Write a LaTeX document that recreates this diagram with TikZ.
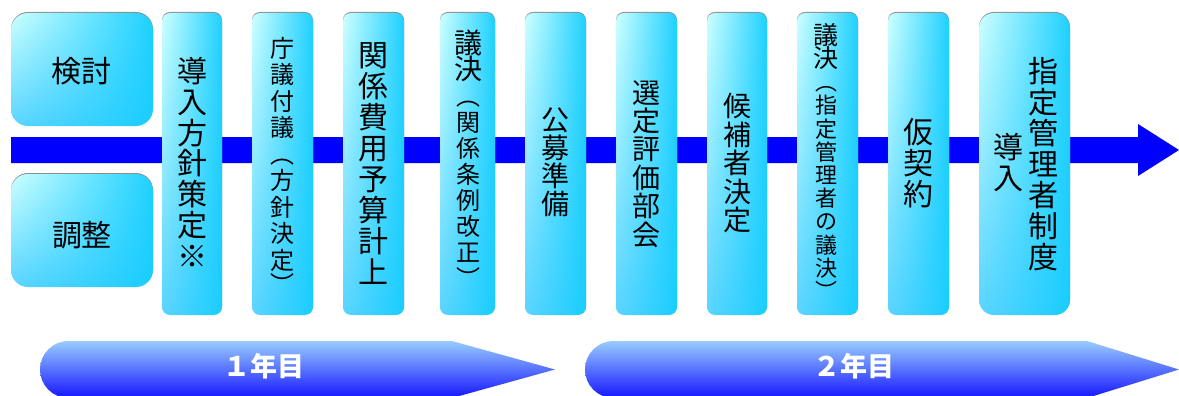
\documentclass[tikz,border=0pt]{standalone}
\usepackage{fontspec}
\setmainfont{Noto Sans CJK JP}
\usetikzlibrary{shadows,shadings}
\definecolor{boxUL}{RGB}{204,255,255}
\definecolor{boxUR}{RGB}{30,208,255}
\definecolor{boxLL}{RGB}{90,212,255}
\definecolor{boxLR}{RGB}{25,205,255}
\definecolor{yrTop}{RGB}{152,204,255}
\definecolor{yrMid}{RGB}{115,160,255}
\definecolor{yrBot}{RGB}{22,22,255}
\definecolor{barblue}{RGB}{0,0,255}
\newcommand{\fsz}[2]{\fontsize{#1}{#2}\selectfont}
\begin{document}
\begin{tikzpicture}[x=1pt,y=-1pt,
  cbox/.style={shade, upper left=boxUL, upper right=boxUR, lower left=boxLL, lower right=boxLR,
    draw=none, inner sep=0pt, general shadow={fill=black!45, shadow yshift=1pt}},
  tallbox/.style={cbox, rounded corners=8pt, minimum height=302pt},
  sidebox/.style={cbox, rounded corners=17pt, minimum width=142pt, minimum height=113pt},
  vtxt/.style={anchor=north, inner sep=0pt, align=center, text=black},
  hlabel/.style={inner sep=0pt, text=black, font=\fsz{30}{31}},
  yrarrow/.style={top color=yrTop, middle color=yrMid, bottom color=yrBot},
  yrlabel/.style={inner sep=0pt, text=white, font=\bfseries\fsz{27}{27}}
]
\useasboundingbox (0,0) rectangle (1179,396);

% main blue arrow
\coordinate (barstart) at (11,150);
\coordinate (bartip) at (1179,150);
\fill[barblue] (11,137) -- (1138,137) -- (1138,124) -- (bartip) -- (1138,176) -- (1138,163) -- (11,163) -- cycle;

% side boxes
\node[sidebox] (kento) at (82,69.5) {};
\node[sidebox] (chosei) at (82,230.5) {};
\node[hlabel] (kentoT) at (81,71.5) {検討};
\node[hlabel] (choseiT) at (82,235) {調整};

% tall boxes
\node[tallbox, minimum width=60pt] (b1) at (192,164) {};
\node[tallbox, minimum width=61pt] (b2) at (282.5,164) {};
\node[tallbox, minimum width=61pt] (b3) at (373.5,164) {};
\node[tallbox, minimum width=55pt] (b4) at (467.5,164) {};
\node[tallbox, minimum width=61pt] (b5) at (555.5,164) {};
\node[tallbox, minimum width=61pt] (b6) at (646.5,164) {};
\node[tallbox, minimum width=60pt] (b7) at (737,164) {};
\node[tallbox, minimum width=61pt] (b8) at (827.5,164) {};
\node[tallbox, minimum width=61pt] (b9) at (918.5,164) {};
\node[cbox, rounded corners=15pt, minimum height=302pt, minimum width=91pt] (b10) at (1024.5,164) {};

% vertical texts
\node[vtxt, font=\fsz{24}{26.5}] (t2) at (282.5,37) {庁\\議\\付\\議\\︵\\方\\針\\決\\定\\[-2pt]︶};
\node[vtxt, font=\fsz{30}{30.8}] (t1) at (192,57) {導\\入\\方\\針\\策\\定\\※};
\node[vtxt, font=\fsz{30}{31}] (t3) at (373.5,42) {関\\係\\費\\用\\予\\算\\計\\上};
\node[vtxt, font=\fsz{24}{26}] (t4) at (468,30) {{\fsz{28}{28}議}\\{\fsz{28}{28}決}\\︵\\関\\係\\条\\例\\改\\正\\︶};
\node[vtxt, font=\fsz{28}{28}] (t5) at (555.5,108) {公\\募\\準\\備};
\node[vtxt, font=\fsz{28}{28.4}] (t6) at (646.5,80) {選\\定\\評\\価\\部\\会};
\node[vtxt, font=\fsz{28}{28.5}] (t7) at (737,93) {候\\補\\者\\決\\定};
\node[vtxt, font=\fsz{22}{23.2}] (t8) at (826,23) {{\fsz{25}{25}議}\\{\fsz{25}{25}決}\\︵\\指\\定\\管\\理\\者\\の\\議\\決\\︶};
\node[vtxt, font=\fsz{30}{31}] (t9) at (918.5,118) {仮\\契\\約};
\node[vtxt, font=\fsz{30}{31}] (t10a) at (1043,57) {指\\定\\管\\理\\者\\制\\度};
\node[vtxt, font=\fsz{30}{31}] (t10b) at (1008,133) {導\\入};

% year arrows
\shade[yrarrow] (452,341) -- (555,369.5) -- (452,398) -- (68.5,398) arc[start angle=90, end angle=270, radius=28.5] -- cycle;
\shade[yrarrow] (1087,341) -- (1179,369.5) -- (1087,398) -- (613.5,398) arc[start angle=90, end angle=270, radius=28.5] -- cycle;
\node[yrlabel] (y1) at (264,366) {１年目};
\node[yrlabel] (y2) at (854,366) {２年目};
\end{tikzpicture}
\end{document}
